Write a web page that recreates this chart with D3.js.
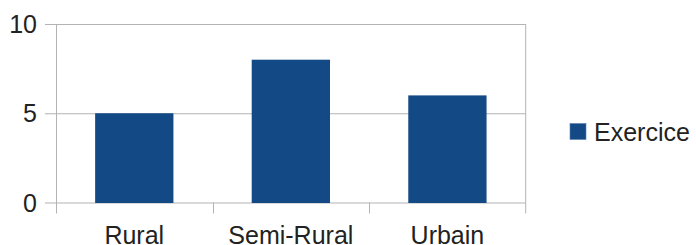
<!DOCTYPE html>
<html>
<head>
<meta charset="utf-8">
<script src="https://cdn.jsdelivr.net/npm/d3@7"></script>
<style>
  html, body { margin: 0; padding: 0; background: #fff; }
  svg { display: block; font-family: "Liberation Sans", Arial, sans-serif; }
</style>
</head>
<body>
<div id="chart"></div>
<script>
const categories = ["Rural", "Semi-Rural", "Urbain"];
const values = [5, 8, 6];
const seriesName = "Exercice";
const yTicks = [0, 5, 10];

const W = 696, H = 245;
const plotLeft = 56, plotRight = 525.7, plotTop = 24, plotBottom = 202.5;
const barColor = "#134a85";
const gridColor = "#b3b3b3";
const textColor = "#222";

const svg = d3.select("#chart").append("svg").attr("width", W).attr("height", H);

const x = d3.scaleBand().domain(categories).range([plotLeft, plotRight]).paddingInner(0.5).paddingOuter(0.25);
const y = d3.scaleLinear().domain([0, 10]).range([plotBottom, plotTop]);

// gridlines + y tick marks
svg.append("g").selectAll("line").data(yTicks).join("line")
  .attr("x1", plotLeft - 11).attr("x2", plotRight)
  .attr("y1", d => y(d) + 0.5).attr("y2", d => y(d) + 0.5)
  .attr("stroke", gridColor).attr("stroke-width", 1);

// left axis line
svg.append("line").attr("x1", plotLeft + 0.5).attr("x2", plotLeft + 0.5)
  .attr("y1", plotTop).attr("y2", plotBottom + 11)
  .attr("stroke", gridColor);
// right border
svg.append("line").attr("x1", plotRight).attr("x2", plotRight)
  .attr("y1", plotTop).attr("y2", plotBottom + 11)
  .attr("stroke", gridColor);

// category separator ticks
const bounds = d3.range(1, categories.length).map(i => plotLeft + i * (plotRight - plotLeft) / categories.length);
svg.append("g").selectAll("line").data(bounds).join("line")
  .attr("x1", d => Math.round(d) + 0.5).attr("x2", d => Math.round(d) + 0.5)
  .attr("y1", plotBottom).attr("y2", plotBottom + 11)
  .attr("stroke", gridColor);

// bars
svg.append("g").selectAll("rect").data(values).join("rect")
  .attr("x", (d, i) => x(categories[i]))
  .attr("width", x.bandwidth())
  .attr("y", d => y(d))
  .attr("height", d => y(0) - y(d) + 0.5)
  .attr("fill", barColor);

// y tick labels
svg.append("g").selectAll("text").data(yTicks).join("text")
  .attr("x", 37).attr("y", d => y(d) + 9)
  .attr("text-anchor", "end")
  .attr("font-size", 25)
  .attr("fill", textColor)
  .text(d => d);

// x labels
svg.append("g").selectAll("text").data(categories).join("text")
  .attr("x", d => x(d) + x.bandwidth() / 2)
  .attr("y", 244)
  .attr("text-anchor", "middle")
  .attr("font-size", 25)
  .attr("fill", textColor)
  .text(d => d);

// legend
svg.append("rect").attr("x", 570).attr("y", 123.5).attr("width", 16).attr("height", 16)
  .attr("fill", barColor).attr("stroke", "#5a7fb0").attr("stroke-width", 0.6);
svg.append("text").attr("x", 594).attr("y", 140.5)
  .attr("font-size", 25).attr("fill", textColor).text(seriesName);
</script>
</body>
</html>
